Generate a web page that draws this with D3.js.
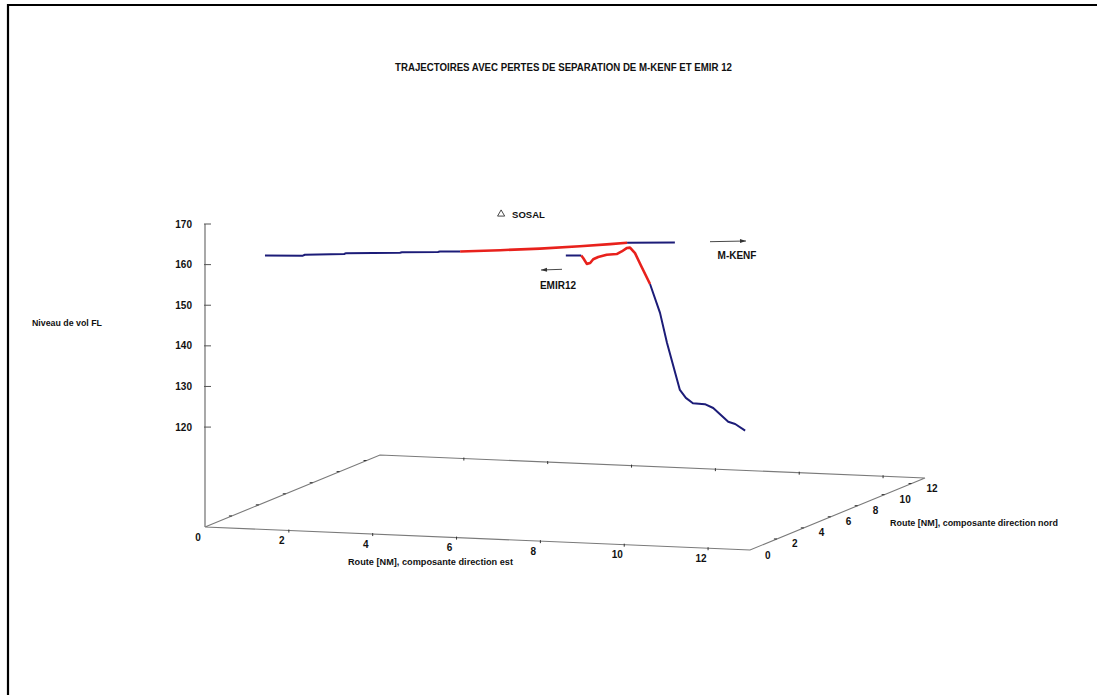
<!DOCTYPE html>
<html>
<head>
<meta charset="utf-8">
<script src="https://cdn.jsdelivr.net/npm/d3@7"></script>
<style>
  html, body { margin: 0; padding: 0; background: #fff; }
  svg { display: block; }
  text { font-family: "Liberation Sans", Arial, sans-serif; font-weight: bold; fill: #111; }
</style>
</head>
<body>
<svg id="chart" width="1097" height="695"></svg>
<script>
// ---------- data ----------
const title = "TRAJECTOIRES AVEC PERTES DE SEPARATION DE M-KENF ET EMIR 12";
const flLabel = "Niveau de vol FL";
const eastLabel = "Route [NM], composante direction est";
const northLabel = "Route [NM], composante direction nord";

const eastTicks = [0, 2, 4, 6, 8, 10, 12];
const northTicks = [0, 2, 4, 6, 8, 10, 12];
const flTicks = [120, 130, 140, 150, 160, 170];

// points: [east NM, north NM, flight level]
const mkenfBlueA = [[1.27,0.50,162.1],[2.03,0.95,161.8],[2.07,0.97,162.0],[2.86,1.43,161.9],[2.90,1.45,162.1],
                    [3.98,2.09,161.8],[4.02,2.11,161.9],[4.74,2.54,161.7],[4.78,2.56,161.8],[5.19,2.79,161.7]];
const mkenfRed   = [[5.19,2.79,161.7],[5.99,3.27,161.7],[6.79,3.74,161.8],[7.59,4.21,162.1],[8.20,4.56,162.4],[8.54,4.76,162.6]];
const mkenfBlueB = [[8.54,4.76,162.6],[9.50,5.32,162.3]];

const emirBlueA = [[7.31,4.04,159.9],[7.62,4.22,159.8]];
const emirRed   = [[7.62,4.22,159.8],[7.66,4.25,159.1],[7.73,4.29,157.7],[7.80,4.32,157.9],[7.86,4.36,158.8],
                   [7.96,4.42,159.3],[8.13,4.52,159.8],[8.33,4.64,159.9],[8.43,4.70,160.5],[8.53,4.76,161.3],
                   [8.60,4.79,161.4],[8.70,4.85,160.0],[8.83,4.93,156.6],[9.00,5.03,152.3]];
const emirBlueB = [[9.00,5.03,152.3],[9.20,5.15,145.1],[9.34,5.23,137.7],[9.60,5.38,126.0],[9.72,5.45,124.0],
                   [9.86,5.54,122.6],[10.10,5.68,122.3],[10.27,5.77,121.3],[10.57,5.95,117.8],[10.71,6.03,117.2],
                   [10.91,6.15,115.5]];

const sosal = [6.01, 3.28, 170.6];

// ---------- projection ----------
const svg = d3.select("#chart");
const ox = 205, oy = 527;
const eMax = 13, nMax = 13, flMin = 95.4, flMax = 170;
const xE = d3.scaleLinear().domain([0, eMax]).range([0, 545]);
const yE = d3.scaleLinear().domain([0, eMax]).range([0, 23]);
const xN = d3.scaleLinear().domain([0, nMax]).range([0, 175]);
const yN = d3.scaleLinear().domain([0, nMax]).range([0, -72]);
const zS = d3.scaleLinear().domain([flMin, flMax]).range([0, -303]);
function proj(e, n, z) {
  return [ox + xE(e) + xN(n), oy + yE(e) + yN(n) + zS(z)];
}

// ---------- frame ----------
svg.append("line").attr("x1", 8).attr("y1", 4).attr("x2", 8).attr("y2", 695)
  .attr("stroke", "#000").attr("stroke-width", 2.2);
svg.append("line").attr("x1", 7).attr("y1", 5).attr("x2", 1097).attr("y2", 5)
  .attr("stroke", "#000").attr("stroke-width", 2.2);

// ---------- title ----------
svg.append("text").attr("x", 395).attr("y", 71).attr("font-size", 10)
  .attr("textLength", 337).attr("lengthAdjust", "spacingAndGlyphs").text(title);

// ---------- floor ----------
const axisColor = "#7a7a7a";
const O = proj(0,0,flMin), E = proj(eMax,0,flMin), N = proj(0,nMax,flMin), EN = proj(eMax,nMax,flMin);
svg.append("path")
  .attr("d", d3.line()([O, E, EN, N, O]))
  .attr("fill", "none").attr("stroke", axisColor).attr("stroke-width", 1.1);

// east ticks (front & back)
eastTicks.filter(t => t > 0).forEach(t => {
  [0, nMax].forEach(n => {
    const p = proj(t, n, flMin);
    svg.append("line").attr("x1", p[0]).attr("y1", p[1] - 1).attr("x2", p[0]).attr("y2", p[1] + 2)
      .attr("stroke", "#333").attr("stroke-width", 1);
  });
});
eastTicks.forEach(t => {
  const p = proj(t, 0, flMin);
  svg.append("text").attr("x", p[0] - 7).attr("y", p[1] + 13.5).attr("font-size", 10)
    .attr("text-anchor", "middle").text(t);
});
// north ticks (left & right)
northTicks.filter(t => t > 0).forEach(t => {
  [0, eMax].forEach(e => {
    const p = proj(e, t, flMin);
    svg.append("line").attr("x1", p[0] - 3).attr("y1", p[1]).attr("x2", p[0]).attr("y2", p[1])
      .attr("stroke", "#333").attr("stroke-width", 1);
  });
});
northTicks.forEach(t => {
  const p = proj(eMax, t, flMin);
  svg.append("text").attr("x", p[0] + 15).attr("y", p[1] + 8.5).attr("font-size", 10)
    .attr("text-anchor", "start").text(t);
});

// vertical axis
const vTop = proj(0, 0, flMax);
svg.append("line").attr("x1", O[0]).attr("y1", O[1]).attr("x2", vTop[0]).attr("y2", vTop[1])
  .attr("stroke", axisColor).attr("stroke-width", 1.3);
flTicks.forEach(t => {
  const p = proj(0, 0, t);
  svg.append("line").attr("x1", p[0] - 1).attr("y1", p[1]).attr("x2", p[0] + 6).attr("y2", p[1])
    .attr("stroke", "#555").attr("stroke-width", 1);
  svg.append("text").attr("x", p[0] - 13).attr("y", p[1] + 3.5).attr("font-size", 10)
    .attr("text-anchor", "end").text(t);
});

// axis titles
svg.append("text").attr("x", 32).attr("y", 326).attr("font-size", 9)
  .attr("textLength", 70).attr("lengthAdjust", "spacingAndGlyphs").text(flLabel);
svg.append("text").attr("x", 348).attr("y", 565).attr("font-size", 9)
  .attr("textLength", 165).attr("lengthAdjust", "spacingAndGlyphs").text(eastLabel);
svg.append("text").attr("x", 890).attr("y", 526).attr("font-size", 9)
  .attr("textLength", 168).attr("lengthAdjust", "spacingAndGlyphs").text(northLabel);

// ---------- trajectories ----------
const line3 = d3.line().x(d => proj(...d)[0]).y(d => proj(...d)[1]);
const blue = "#1c1c78", red = "#e8211c";
[[mkenfBlueA, blue, 2], [mkenfBlueB, blue, 2], [emirBlueA, blue, 2], [emirBlueB, blue, 2],
 [mkenfRed, red, 2.6], [emirRed, red, 2.6]].forEach(([pts, col, w]) => {
  svg.append("path").attr("d", line3(pts)).attr("fill", "none")
    .attr("stroke", col).attr("stroke-width", w).attr("stroke-linejoin", "round");
});

// ---------- SOSAL ----------
const sp = proj(...sosal);
svg.append("path")
  .attr("d", d3.symbol().type(d3.symbolTriangle).size(22)())
  .attr("transform", `translate(${sp[0]},${sp[1]})`)
  .attr("fill", "none").attr("stroke", "#333").attr("stroke-width", 0.9);
svg.append("text").attr("x", sp[0] + 11).attr("y", sp[1] + 3.5).attr("font-size", 9.5).text("SOSAL");

// ---------- annotations ----------
function arrow(x1, y1, x2, y2) {
  svg.append("line").attr("x1", x1).attr("y1", y1).attr("x2", x2).attr("y2", y2)
    .attr("stroke", "#333").attr("stroke-width", 0.9);
  const a = Math.atan2(y2 - y1, x2 - x1);
  const L = 6, W = 2;
  const bx = x2 - L * Math.cos(a), by = y2 - L * Math.sin(a);
  const px = -Math.sin(a) * W, py = Math.cos(a) * W;
  svg.append("path").attr("d", `M${x2},${y2}L${bx + px},${by + py}L${bx - px},${by - py}Z`).attr("fill", "#333");
}
arrow(710, 241.7, 746, 241);
svg.append("text").attr("x", 737).attr("y", 258.5).attr("font-size", 10).attr("text-anchor", "middle").text("M-KENF");
arrow(562, 269.3, 541, 270);
svg.append("text").attr("x", 558).attr("y", 288.5).attr("font-size", 10).attr("text-anchor", "middle").text("EMIR12");
</script>
</body>
</html>
